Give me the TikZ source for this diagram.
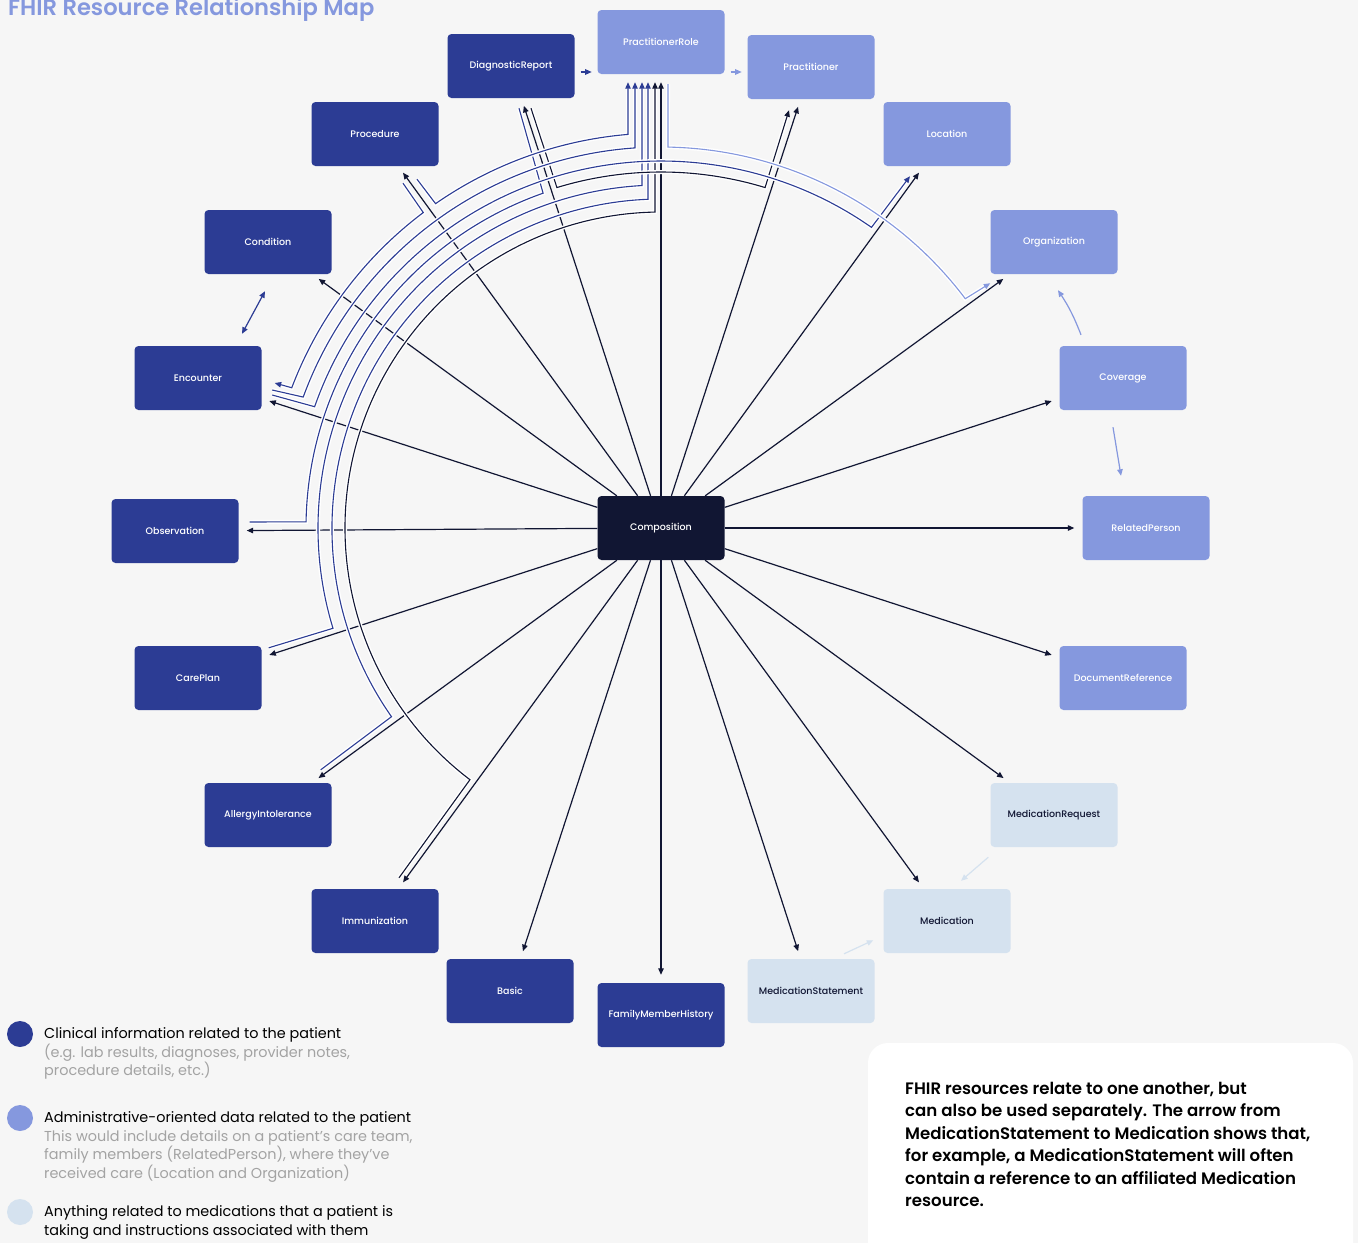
\documentclass[tikz,border=0pt]{standalone}
\usepackage{fontspec}
\setmainfont{Poppins}
\newfontfamily\medfont{Poppins Medium}
\newfontfamily\semifont{Poppins SemiBold}
\usetikzlibrary{arrows.meta,calc,positioning}
\definecolor{clinical}{HTML}{2C3C94}
\definecolor{admin}{HTML}{8598DE}
\definecolor{medpale}{HTML}{D5E2EF}
\definecolor{ink}{HTML}{111633}
\definecolor{bgc}{HTML}{F6F6F6}
\definecolor{greytext}{HTML}{A3A3A3}

\tikzset{
  res/.style={rectangle, rounded corners=4pt, minimum width=127pt, minimum height=64pt,
    inner sep=0pt, font=\medfont\fontsize{9.5}{11}\selectfont},
  clin/.style={res, fill=clinical, text=white},
  adm/.style={res, fill=admin, text=white},
  meds/.style={res, fill=medpale, text=ink},
  corebox/.style={res, fill=ink, text=white},
  spoke/.style={draw=ink, line width=1.2pt, ->, shorten >=8pt},
  route/.style={line width=1.1pt, preaction={draw=white, line width=4pt}},
  hop/.style={line width=1.2pt, ->},
  legtext/.style={anchor=north west, inner sep=0pt, align=left, text=black,
    font=\fontsize{14.4}{18.6}\selectfont},
}

\begin{document}
\begin{tikzpicture}[x=1pt, y=-1pt, >={Triangle[length=6.5pt,width=5.5pt]}]
\useasboundingbox (0,0) rectangle (1358,1243);
\clip (0,0) rectangle (1358,1243);
\fill[bgc] (0,0) rectangle (1358,1243);

\node[anchor=base west, inner sep=0pt, text=admin, font=\semifont\fontsize{22.6}{26}\selectfont] (title) at (8,15) {FHIR Resource Relationship Map};

% resources
\node[corebox] (comp) at (661,528) {Composition};
\node[adm] (prole) at (661,42) {PractitionerRole};
\node[clin] (diag) at (511,66) {DiagnosticReport};
\node[adm] (pract) at (811,67) {Practitioner};
\node[clin] (proc) at (375,134) {Procedure};
\node[adm] (loc) at (947,134) {Location};
\node[clin] (cond) at (268,242) {Condition};
\node[adm] (org) at (1054,242) {Organization};
\node[clin] (enc) at (198,378) {Encounter};
\node[adm] (cov) at (1123,378) {Coverage};
\node[clin] (obs) at (175,531) {Observation};
\node[adm] (relp) at (1146,528) {RelatedPerson};
\node[clin] (care) at (198,678) {CarePlan};
\node[adm] (docref) at (1123,678) {DocumentReference};
\node[clin] (allergy) at (268,815) {AllergyIntolerance};
\node[meds] (medreq) at (1054,815) {MedicationRequest};
\node[clin] (immun) at (375,921) {Immunization};
\node[meds] (med) at (947,921) {Medication};
\node[clin] (basic) at (510,991) {Basic};
\node[meds] (medst) at (811,991) {MedicationStatement};
\node[clin] (fmh) at (661,1015) {FamilyMemberHistory};

% composition references
\foreach \t in {prole,pract,loc,org,cov,relp,docref,medreq,med,medst,fmh,basic,immun,allergy,care,obs,enc,cond,proc,diag}
  \draw[spoke] (comp) -- (\t);

% routed references round the composition
\draw[route, draw=ink, ->] ($(immun.north)+(24,-11)$) -- ($(comp)+(127.2:316)$)
  arc[start angle=127.2, end angle=268.91, radius=316] -- ($(prole.south)+(-6,8)$);
\draw[route, draw=clinical, ->] ($(allergy.north east)+(-11,-13)$) -- ($(comp)+(145:329)$)
  arc[start angle=145, end angle=267.74, radius=329] -- ($(prole.south)+(-13,8)$);
\draw[route, draw=clinical, ->] ($(care.north east)+(7,2)$) -- ($(comp)+(163:343)$)
  arc[start angle=163, end angle=266.82, radius=343] -- ($(prole.south)+(-19,8)$);
\draw[route, draw=clinical] ($(diag.south)+(8,10)$) -- ($(comp)+(-109.4:355)$)
  arc[start angle=-109.4, end angle=-179, radius=355] -- ($(obs.east)+(11,-9)$);
\draw[route, draw=ink, ->] ($(diag.south)+(20,10)$) -- ($(comp)+(-107:356)$)
  arc[start angle=-107, end angle=-73, radius=356] -- ($(pract.south)+(-22,11)$);
\draw[route, draw=clinical, ->] ($(enc.east)+(10.5,17)$) -- ($(comp)+(-160.7:367)$)
  arc[start angle=-160.7, end angle=-55, radius=367] -- ($(loc.south)+(-37,10)$);
\draw[route, draw=clinical, ->] ($(enc.east)+(10.5,12)$) -- ($(comp)+(-159.9:381)$)
  arc[start angle=-159.9, end angle=-93.91, radius=381] -- ($(prole.south)+(-26,8)$);
\draw[route, draw=admin, ->] ($(prole.south)+(7,10)$) -- ($(comp)+(-88.95:381)$)
  arc[start angle=-88.95, end angle=-37, radius=381] -- ($(org.south west)+(0,9)$);
\draw[route, draw=clinical, ->] ($(proc.south)+(42,13)$) -- ($(comp)+(-124.8:395)$)
  arc[start angle=-124.8, end angle=-94.79, radius=395] -- ($(prole.south)+(-33,8)$);
\draw[route, draw=clinical, ->] ($(proc.south)+(28,17)$) -- ($(comp)+(-127:395)$)
  arc[start angle=-127, end angle=-159.2, radius=395] -- ($(enc.east)+(13,5)$);

% short links between neighbours
\draw[hop, draw=clinical] ($(diag.east)+(6,6)$) -- ($(diag.east)+(17,6)$);
\draw[hop, draw=admin] ($(prole.east)+(6,30)$) -- ($(prole.east)+(17,30)$);
\draw[hop, draw=clinical, <->] ($(cond.south)+(-3,17)$) -- ($(enc.north)+(44,-12)$);
\draw[hop, draw=admin] ($(cov.north)+(-42,-11)$) to[bend right=6] ($(org.south)+(4,16)$);
\draw[hop, draw=admin] ($(cov.south)+(-10,17)$) -- ($(relp.north)+(-25,-20)$);
\draw[hop, draw=medpale] ($(medreq.south west)+(-2,10)$) -- ($(med.north)+(14,-8)$);
\draw[hop, draw=medpale] ($(medst.north)+(33,-5)$) -- ($(med.south west)+(-10,-13)$);

% legend
\node[circle, fill=clinical, minimum size=26pt, inner sep=0pt] (dotclin) at (20,1034) {};
\node[circle, fill=admin, minimum size=26pt, inner sep=0pt] (dotadm) at (20,1118) {};
\node[circle, fill=medpale, minimum size=26pt, inner sep=0pt] (dotmed) at (20,1212) {};
\node[legtext] (legclin) at (44,1027.5) {Clinical information related to the patient\\
  \textcolor{greytext}{(e.g. lab results, diagnoses, provider notes,}\\
  \textcolor{greytext}{procedure details, etc.)}};
\node[legtext] (legadm) at (44,1111.5) {Administrative-oriented data related to the patient\\
  \textcolor{greytext}{This would include details on a patient's care team,}\\
  \textcolor{greytext}{family members (RelatedPerson), where they've}\\
  \textcolor{greytext}{received care (Location and Organization)}};
\node[legtext] (legmed) at (44,1205.5) {Anything related to medications that a patient is\\
  taking and instructions associated with them};

% note
\fill[white, rounded corners=20pt] (868,1043) rectangle (1353,1290);
\node[anchor=north west, inner sep=0pt, align=left, text=black,
  font=\semifont\fontsize{16.6}{22.4}\selectfont] (note) at (905,1082)
  {FHIR resources relate to one another, but\\
   can also be used separately. The arrow from\\
   MedicationStatement to Medication shows that,\\
   for example, a MedicationStatement will often\\
   contain a reference to an affiliated Medication\\
   resource.};
\end{tikzpicture}
\end{document}
